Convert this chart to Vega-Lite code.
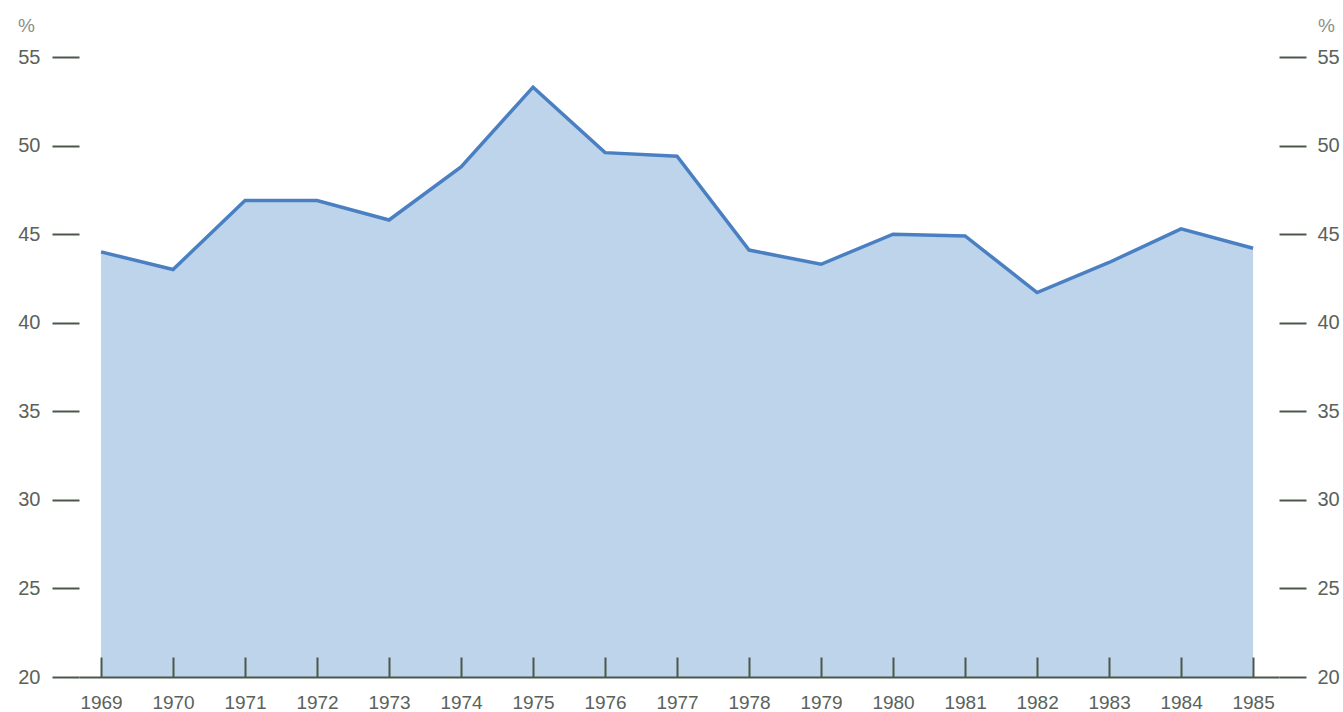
{
  "$schema": "https://vega.github.io/schema/vega-lite/v6.json",
  "width": 1200,
  "height": 620,
  "autosize": {"type": "none"},
  "padding": {"left": 79, "top": 57, "right": 64, "bottom": 35},
  "background": "white",
  "config": {
    "view": {"stroke": null},
    "axis": {"labelFont": "Liberation Sans", "titleFont": "Liberation Sans", "grid": false}
  },
  "data": {
    "values": [
      {"year": 1969, "value": 44.0},
      {"year": 1970, "value": 43.0},
      {"year": 1971, "value": 46.9},
      {"year": 1972, "value": 46.9},
      {"year": 1973, "value": 45.8},
      {"year": 1974, "value": 48.8},
      {"year": 1975, "value": 53.3},
      {"year": 1976, "value": 49.6},
      {"year": 1977, "value": 49.4},
      {"year": 1978, "value": 44.1},
      {"year": 1979, "value": 43.3},
      {"year": 1980, "value": 45.0},
      {"year": 1981, "value": 44.9},
      {"year": 1982, "value": 41.7},
      {"year": 1983, "value": 43.4},
      {"year": 1984, "value": 45.3},
      {"year": 1985, "value": 44.2}
    ]
  },
  "layer": [
    {
      "mark": {"type": "area", "color": "#bdd4ea", "opacity": 1, "line": {"color": "#4a80c2", "strokeWidth": 3.5}},
      "encoding": {
        "x": {
          "field": "year", "type": "quantitative",
          "scale": {"domain": [1968.694, 1985.36], "nice": false, "zero": false},
          "axis": {
            "zindex": 1,
            "values": [1969,1970,1971,1972,1973,1974,1975,1976,1977,1978,1979,1980,1981,1982,1983,1984,1985],
            "format": "d", "title": null,
            "domainColor": "#4a584a", "domainWidth": 2,
            "tickColor": "#4a584a", "tickWidth": 2, "tickSize": -20,
            "labelColor": "#5a625a", "labelFontSize": 19, "labelPadding": 36,
            "labelBaseline": "top"
          }
        },
        "y": {
          "field": "value", "type": "quantitative",
          "scale": {"domain": [20, 55], "nice": false, "zero": false},
          "axis": {
            "values": [20,25,30,35,40,45,50,55],
            "title": "%", "titleAngle": 0, "titleX": -53, "titleY": -32,
            "titleAlign": "center", "titleBaseline": "middle",
            "titleFontSize": 19, "titleFontWeight": "normal", "titleColor": "#8a908a",
            "domain": false, "tickColor": "#4a584a", "tickWidth": 2, "tickSize": 27,
            "labelColor": "#5a625a", "labelFontSize": 20, "labelPadding": 12
          }
        },
        "y2": {"datum": 20}
      }
    },
    {
      "mark": {"type": "point", "opacity": 0},
      "encoding": {
        "x": {"field": "year", "type": "quantitative"},
        "y": {
          "field": "value", "type": "quantitative",
          "scale": {"domain": [20, 55], "nice": false, "zero": false},
          "axis": {
            "orient": "right",
            "values": [20,25,30,35,40,45,50,55],
            "title": "%", "titleAngle": 0, "titleX": 47, "titleY": -32,
            "titleAlign": "center", "titleBaseline": "middle",
            "titleFontSize": 19, "titleFontWeight": "normal", "titleColor": "#8a908a",
            "domain": false, "tickColor": "#4a584a", "tickWidth": 2, "tickSize": 27,
            "labelColor": "#5a625a", "labelFontSize": 20, "labelPadding": 11
          }
        }
      }
    }
  ],
  "resolve": {"scale": {"y": "independent"}}
}
